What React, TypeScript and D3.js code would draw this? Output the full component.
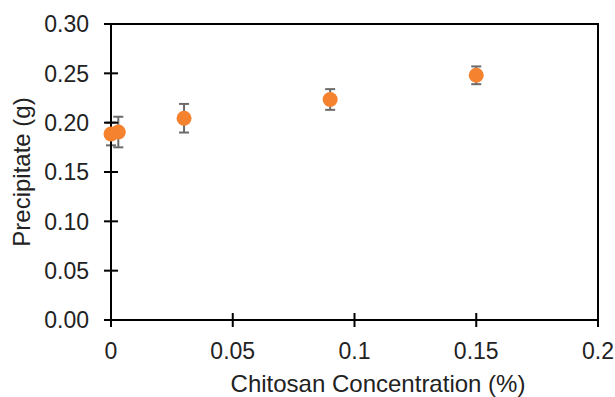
import * as d3 from "d3";

// chitosan concentration (%) vs precipitate mass (g), with error bars
const concentration = [0, 0.003, 0.03, 0.09, 0.15];
const precipitate = [0.1885, 0.1905, 0.2045, 0.2235, 0.248];
const errors = [0.0115, 0.0155, 0.0145, 0.0105, 0.009];

const xTicks = [0, 0.05, 0.1, 0.15, 0.2];
const yTicks = [0, 0.05, 0.1, 0.15, 0.2, 0.25, 0.3];

const xTitle = "Chitosan Concentration (%)";
const yTitle = "Precipitate (g)";

export default function App() {
  const width = 615;
  const height = 397;
  const marginLeft = 111;
  const marginRight = 17;
  const marginTop = 24;
  const marginBottom = 77;

  const x = d3.scaleLinear([0, 0.2], [marginLeft, width - marginRight]);
  const y = d3.scaleLinear([0, 0.3], [height - marginBottom, marginTop]);
  const fmtY = d3.format(".2f");

  const font = "'Liberation Sans', Arial, sans-serif";
  const ink = "#222";
  const orange = "#F5822F";
  const grey = "#6b6b6b";

  const data = concentration.map((c, i) => ({ c, v: precipitate[i], e: errors[i] }));

  return (
    <svg width={width} height={height} style={{ position: "fixed", left: 0, top: 0, background: "#fff" }} fontFamily={font}>
      {/* error bars, under the axis lines */}
      <g stroke={grey} strokeWidth={2} fill="none">
        {data.map((d, i) => (
          <g key={i}>
            <line x1={x(d.c)} x2={x(d.c)} y1={y(d.v - d.e)} y2={y(d.v + d.e)} />
            <line x1={x(d.c) - 5} x2={x(d.c) + 5} y1={y(d.v + d.e)} y2={y(d.v + d.e)} />
            <line x1={x(d.c) - 5} x2={x(d.c) + 5} y1={y(d.v - d.e)} y2={y(d.v - d.e)} />
          </g>
        ))}
      </g>

      {/* plot frame */}
      <rect x={x(0)} y={y(0.3)} width={x(0.2) - x(0)} height={y(0) - y(0.3)} fill="none" stroke="#000" strokeWidth={2} />

      {/* y ticks and labels */}
      <g>
        {yTicks.map((t) => (
          <g key={t}>
            <line x1={x(0) - 7} x2={x(0) + 7} y1={y(t)} y2={y(t)} stroke="#000" strokeWidth={2} />
            <text x={89} y={y(t)} dy="0.36em" textAnchor="end" fontSize={23} fill={ink}>{fmtY(t)}</text>
          </g>
        ))}
      </g>

      {/* x ticks and labels */}
      <g>
        {xTicks.map((t) => (
          <g key={t}>
            <line x1={x(t)} x2={x(t)} y1={y(0) - 7} y2={y(0) + 7} stroke="#000" strokeWidth={2} />
            <text x={x(t)} y={359} textAnchor="middle" fontSize={23} fill={ink}>{String(t)}</text>
          </g>
        ))}
      </g>

      {/* markers on top */}
      <g fill={orange}>
        {data.map((d, i) => (
          <circle key={i} cx={x(d.c)} cy={y(d.v)} r={7.5} />
        ))}
      </g>

      <text x={378} y={392} textAnchor="middle" fontSize={24} fill={ink}>{xTitle}</text>
      <text transform={`translate(30,${(y(0) + y(0.3)) / 2}) rotate(-90)`} textAnchor="middle" fontSize={24} fill={ink}>{yTitle}</text>
    </svg>
  );
}
